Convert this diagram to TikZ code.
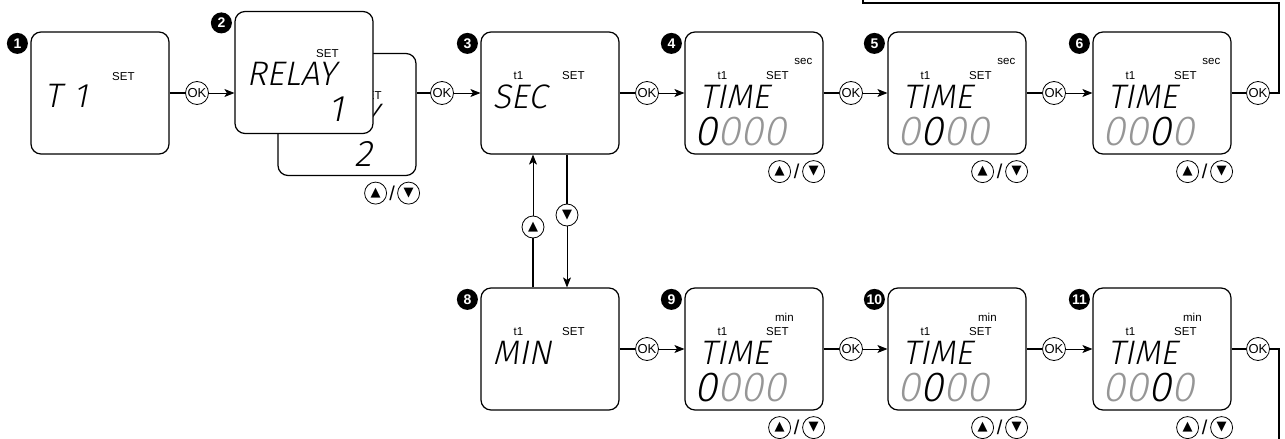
\documentclass[tikz,border=0pt]{standalone}
\usepackage{fontspec}
\setmainfont{Liberation Sans}
\newfontfamily\keyfont{DejaVu Sans}
\IfFontExistsTF{Fira Sans Light}
  {\newfontfamily\lcdfont{Fira Sans Light}[FakeSlant=0.2]}
  {\newfontfamily\lcdfont{DejaVu Sans}[FakeSlant=0.2]}
\usetikzlibrary{calc,positioning,arrows.meta}
\definecolor{lcdgray}{RGB}{150,150,150}
\newcommand\lcdfour[1]{\ifcase#1\or
  {\color{black}0}{\color{lcdgray}000}\or
  {\color{lcdgray}0}{\color{black}0}{\color{lcdgray}00}\or
  {\color{lcdgray}00}{\color{black}0}{\color{lcdgray}0}\fi}
\tikzset{
 lcd box/.style={draw,line width=1.2pt,rounded corners=10pt,fill=white,
                 minimum width=138pt,minimum height=122pt,inner sep=0pt},
 lcd badge/.style={circle,fill=black,text=white,minimum size=21pt,inner sep=0pt,
                   font=\bfseries\fontsize{14}{14}\selectfont},
 lcd key/.style={circle,draw,line width=.8pt,fill=white,minimum size=23pt,
                 inner sep=0pt,font=\fontsize{13}{13}\selectfont},
 lcd arrow key/.style={lcd key,minimum size=22pt,font=\keyfont\fontsize{13}{13}\selectfont},
 lcd small/.style={inner sep=0pt,font=\fontsize{11.5}{11.5}\selectfont},
 lcd word/.style={inner sep=0pt,anchor=base west,font=\lcdfont\fontsize{34}{34}\selectfont},
 lcd digits/.style={inner sep=0pt,anchor=base west,font=\lcdfont\fontsize{42}{42}\selectfont},
 lcd slash/.style={inner sep=0pt,font=\fontsize{20}{20}\selectfont},
 lcd feed/.style={line width=1.8pt},
 lcd step/.style={line width=.9pt,-{Stealth[length=10pt,width=8pt,inset=2.5pt]}}
}
\begin{document}
\begin{tikzpicture}[x=1pt,y=-1pt]
 \useasboundingbox (0,0) rectangle (1285,439);
 % channel and relay
 \node[lcd box] (b1) at (100,93) {};
 \node[lcd badge] (n1) at ($(b1.north west)+(-13,12)$) {1};
 \node[lcd small] (s1) at ($(b1.north west)+(93,45)$) {SET};
 \node[lcd word] (w1) at ($(b1.north west)+(14,76)$) {T\hspace{12pt}1};
 \node[lcd box] (b2b) at (347,114.5) {};
 \node[lcd small] (s2b) at ($(b2b.north west)+(93,43)$) {SET};
 \node[lcd word] (w2b) at ($(b2b.north west)+(12,75)$) {RELAY};
 \node[lcd digits,font=\lcdfont\fontsize{37}{37}\selectfont] (d2b)
   at ($(b2b.north west)+(77,114)$) {2};
 \node[lcd arrow key] (up2) at ($(b2b.south east)+(-41,17)$) {▲};
 \node[lcd arrow key] (dn2) at ($(b2b.south east)+(-8,17)$) {▼};
 \node[lcd slash] at ($(up2)!.5!(dn2)$) {/};
 \node[lcd box] (b2f) at (304,72.5) {};
 \node[lcd badge] (n2) at ($(b2f.north west)+(-13,12)$) {2};
 \node[lcd small] (s2f) at ($(b2f.north west)+(93,43)$) {SET};
 \node[lcd word] (w2f) at ($(b2f.north west)+(12,75)$) {RELAY};
 \node[lcd digits,anchor=base east,font=\lcdfont\fontsize{37}{37}\selectfont] (d2f)
   at ($(b2f.north west)+(110,111)$) {1};
 % sec / min choice
 \foreach \n/\y/\w in {3/93/SEC,8/349/MIN}{
   \node[lcd box] (b\n) at (550,\y) {};
   \node[lcd badge] (n\n) at ($(b\n.north west)+(-13,12)$) {\n};
   \node[lcd small] (t\n) at ($(b\n.north west)+(38,44)$) {t1};
   \node[lcd small] (s\n) at ($(b\n.north west)+(93,44)$) {SET};
   \node[lcd word] (w\n) at ($(b\n.north west)+(12,77)$) {\w};
 }
 % time digits
 \foreach \n/\x/\y/\u/\ux/\k in {4/754/93/sec/119/1,5/957/93/sec/119/2,
     6/1162/93/sec/119/3,9/754/349/min/100/1,10/957/349/min/100/2,
     11/1162/349/min/100/3}{
   \node[lcd box] (b\n) at (\x,\y) {};
   \node[lcd badge] (n\n) at ($(b\n.north west)+(-13,12)$) {\n};
   \node[lcd small] (u\n) at ($(b\n.north west)+(\ux,30)$) {\u};
   \node[lcd small] (t\n) at ($(b\n.north west)+(38,44)$) {t1};
   \node[lcd small] (s\n) at ($(b\n.north west)+(93,44)$) {SET};
   \node[lcd word] (w\n) at ($(b\n.north west)+(15,77)$) {TIME};
   \node[lcd digits] (d\n) at ($(b\n.north west)+(10,114)$) {\lcdfour{\k}};
   \node[lcd arrow key] (up\n) at ($(b\n.south east)+(-44,17)$) {▲};
   \node[lcd arrow key] (dn\n) at ($(b\n.south east)+(-10,17)$) {▼};
   \node[lcd slash] at ($(up\n)!.5!(dn\n)$) {/};
 }
 % OK keys
 \foreach \a/\x/\y in {12/197/93,23/442/93,34/647/93,45/851/93,56/1054/93,
     6/1258/93,89/647/349,910/851/349,1011/1054/349,11/1258/349}{
   \node[lcd key] (ok\a) at (\x,\y) {OK};
 }
 \draw[lcd feed] (b1) -- (ok12);
 \draw[lcd step] (ok12) -- (ok12 -| b2f.west);
 \draw[lcd feed] (b2b.east |- ok23) -- (ok23);
 \draw[lcd step] (ok23) -- (b3);
 \foreach \a/\b in {3/4,4/5,5/6,8/9,9/10,10/11}{
   \draw[lcd feed] (b\a) -- (ok\a\b);
   \draw[lcd step] (ok\a\b) -- (b\b);
 }
 \draw[lcd feed] (b6) -- (ok6);
 \draw[lcd feed] (b11) -- (ok11);
 % up / down between 3 and 8
 \node[lcd arrow key] (up38) at (533,227) {▲};
 \node[lcd arrow key] (dn38) at (567,215) {▼};
 \draw[lcd feed] (b8.north -| up38) -- (up38);
 \draw[lcd step] (up38) -- (b3.south -| up38);
 \draw[lcd feed] (b3.south -| dn38) -- (dn38);
 \draw[lcd step] (dn38) -- (b8.north -| dn38);
 % return lines
 \coordinate (loop r) at (1279,3);
 \coordinate (loop l) at (863,-2);
 \coordinate (loop b) at (1279,441);
 \draw[lcd feed] (ok6) -| (loop r) -| (loop l);
 \draw[lcd feed] (ok11) -| (loop b);
\end{tikzpicture}
\end{document}
